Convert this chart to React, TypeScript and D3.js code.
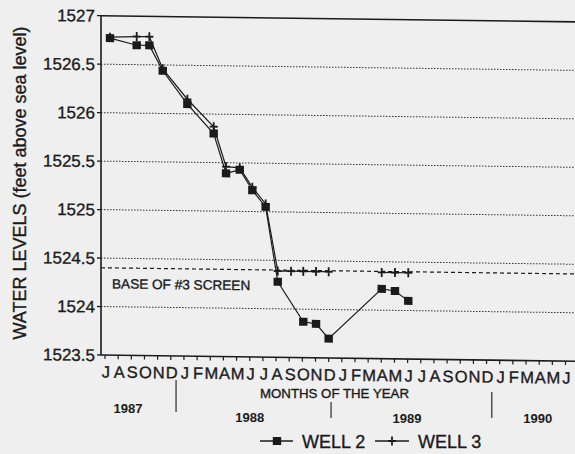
import React from "react";
import * as d3 from "d3";

// ---- data ----
// month index 0 = July 1987 ... 35 = June 1990
const monthLabels = [
  "J", "A", "S", "O", "N", "D", "J", "F", "M", "A", "M", "J",
  "J", "A", "S", "O", "N", "D", "J", "F", "M", "A", "M", "J",
  "J", "A", "S", "O", "N", "D", "J", "F", "M", "A", "M", "J",
];
const yTickValues = [1523.5, 1524, 1524.5, 1525, 1525.5, 1526, 1526.5, 1527];
const yTickLabels = ["1523.5", "1524", "1524.5", "1525", "1525.5", "1526", "1526.5", "1527"];
const gridLevels = [1524, 1524.5, 1525, 1525.5, 1526, 1526.5];
const screenBase = 1524.4;
const yearLabels = ["1987", "1988", "1989", "1990"];
const yearDividerMonths = [5.4, 17.18, 29.4];

// sampling dates (month index) and water levels (ft above sea level)
const sampleMonths = [0.38, 2.41, 3.37, 4.39, 6.26, 8.26, 9.2, 10.24, 11.2, 12.21, 13.13, 14.14, 15.07, 16.04, 17.0, 19.0, 21.03, 22.04, 23.05];
const well2 = [1526.77, 1526.7, 1526.7, 1526.44, 1526.1, 1525.8, 1525.39, 1525.43, 1525.22, 1525.05, 1524.28, null, 1523.87, 1523.85, 1523.7, null, 1524.22, 1524.2, 1524.1];
const well3 = [1526.78, 1526.79, 1526.79, 1526.46, 1526.15, 1525.87, 1525.46, 1525.45, 1525.25, 1525.08, 1524.39, 1524.39, 1524.39, 1524.39, 1524.39, null, 1524.39, 1524.39, 1524.39];

const W = 575;
const H = 454;
const INK = "#1b1b1b";
const FONT = "'Liberation Sans', Arial, Helvetica, sans-serif";

export default function App() {
  const x = d3.scaleLinear().domain([0, 35]).range([105, 565.5]);
  const y = d3.scaleLinear().domain([1523.5, 1527]).range([355, 15.7]);
  const axisX = 101;
  const right = W;

  const pts2 = sampleMonths
    .map((m, i) => ({ m, v: well2[i] }))
    .filter((d) => d.v !== null) as { m: number; v: number }[];
  const pts3 = sampleMonths.map((m, i) => ({ m, v: well3[i] }));

  const line2 = d3
    .line<{ m: number; v: number }>()
    .x((d) => x(d.m))
    .y((d) => y(d.v));
  const line3 = d3
    .line<{ m: number; v: number | null }>()
    .defined((d) => d.v !== null)
    .x((d) => x(d.m))
    .y((d) => y(d.v as number));

  const yearPos = [
    { m: 1.75, y: 413 },
    { m: 11.0, y: 422 },
    { m: 22.95, y: 423 },
    { m: 32.9, y: 423 },
  ];
  const dividerSpan = [
    [380, 412],
    [402, 418],
    [392, 418],
  ];

  const plus = "M-4,0H4M0,-4.5V4.5";
  const txt = { fill: INK, stroke: INK, strokeWidth: 0.35 };

  return (
    <svg
      width={W}
      height={H}
      style={{ position: "absolute", left: 0, top: 0, background: "#efefef" }}
      fontFamily={FONT}
    >
      <rect x={0} y={0} width={W} height={H} fill="#efefef" />
      <g transform={`translate(${axisX},0) skewY(0.75) translate(${-axisX},0)`}>
        {/* gridlines */}
        {gridLevels.map((g) => (
          <line
            key={g}
            x1={axisX}
            x2={right}
            y1={y(g)}
            y2={y(g)}
            stroke="#333"
            strokeWidth={1}
            strokeDasharray="1.5 1.5"
          />
        ))}
        {/* base of screen */}
        <line
          x1={axisX}
          x2={right}
          y1={y(screenBase)}
          y2={y(screenBase)}
          stroke={INK}
          strokeWidth={1.2}
          strokeDasharray="4 3"
        />
        <text x={112} y={y(screenBase) + 20.5} fontSize={13.6} {...txt}>
          BASE OF #3 SCREEN
        </text>
        {/* frame */}
        <line x1={axisX} x2={right} y1={y(1527)} y2={y(1527)} stroke={INK} strokeWidth={1.6} />
        <line x1={axisX} x2={right} y1={y(1523.5)} y2={y(1523.5)} stroke={INK} strokeWidth={1.6} />
        <line x1={axisX} x2={axisX} y1={y(1527)} y2={y(1523.5)} stroke={INK} strokeWidth={1.6} />
        {/* y ticks */}
        {yTickValues.map((v, i) => (
          <g key={v}>
            <line x1={axisX - 4} x2={axisX} y1={y(v)} y2={y(v)} stroke={INK} strokeWidth={1.3} />
            <text x={95} y={y(v)} dy="0.36em" textAnchor="end" fontSize={17} {...txt}>
              {yTickLabels[i]}
            </text>
          </g>
        ))}
        {/* x ticks */}
        {monthLabels.map((lab, i) => (
          <g key={i}>
            <line x1={x(i)} x2={x(i)} y1={y(1523.5)} y2={y(1523.5) + 4} stroke={INK} strokeWidth={1.2} />
            <text x={x(i) + 1} y={y(1523.5) + 22.5} textAnchor="middle" fontSize={16.5} {...txt}>
              {lab}
            </text>
          </g>
        ))}
        {/* series lines */}
        <path d={line2(pts2) || ""} fill="none" stroke={INK} strokeWidth={1.2} />
        <path d={line3(pts3) || ""} fill="none" stroke={INK} strokeWidth={1.2} />
        {/* well 3 markers */}
        {pts3
          .filter((d) => d.v !== null)
          .map((d, i) => (
            <path
              key={"p" + i}
              d={plus}
              transform={`translate(${x(d.m)},${y(d.v as number)})`}
              stroke={INK}
              strokeWidth={1.8}
              fill="none"
            />
          ))}
        {/* well 2 markers */}
        {pts2.map((d, i) => (
          <rect
            key={"s" + i}
            x={x(d.m) - 4.2}
            y={y(d.v) - 4}
            width={8.4}
            height={8}
            fill={INK}
          />
        ))}
      </g>

      {/* year dividers and labels */}
      {yearDividerMonths.map((m, i) => (
        <line
          key={"d" + i}
          x1={x(m)}
          x2={x(m)}
          y1={dividerSpan[i][0]}
          y2={dividerSpan[i][1]}
          stroke={INK}
          strokeWidth={1.1}
        />
      ))}
      {yearLabels.map((lab, i) => (
        <text
          key={lab}
          x={x(yearPos[i].m)}
          y={yearPos[i].y}
          textAnchor="middle"
          fontSize={12}
          fontWeight="bold"
          fill={INK}
          textLength={29}
          lengthAdjust="spacingAndGlyphs"
        >
          {lab}
        </text>
      ))}
      <text
        x={334.5}
        y={398}
        textAnchor="middle"
        fontSize={12.5}
        textLength={149}
        lengthAdjust="spacingAndGlyphs"
        {...txt}
      >
        MONTHS OF THE YEAR
      </text>

      {/* y axis title */}
      <text transform="translate(26,183) rotate(-90)" textAnchor="middle" fontSize={18} {...txt}>
        WATER LEVELS (feet above sea level)
      </text>

      {/* legend */}
      <g>
        <line x1={260} x2={293} y1={441} y2={441} stroke={INK} strokeWidth={1.3} />
        <rect x={272.8} y={437} width={8.4} height={8} fill={INK} />
        <text x={302} y={447.5} fontSize={18} {...txt}>
          WELL 2
        </text>
        <line x1={375} x2={409} y1={441} y2={441} stroke={INK} strokeWidth={1.3} />
        <path d={plus} transform="translate(392,441)" stroke={INK} strokeWidth={1.8} fill="none" />
        <text x={418} y={447.5} fontSize={18} {...txt}>
          WELL 3
        </text>
      </g>
    </svg>
  );
}
